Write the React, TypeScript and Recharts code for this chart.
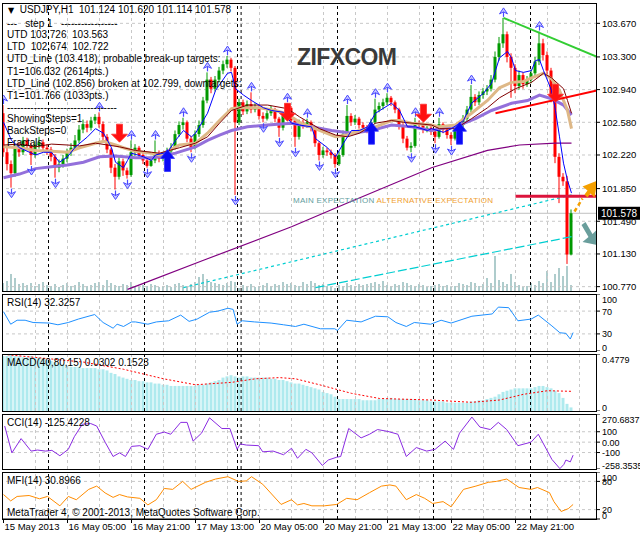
import React from 'react';
import { ComposedChart, Bar, Line, XAxis, YAxis, ReferenceLine } from 'recharts';

const W = 640;
const FONT = '"Liberation Sans", Arial, sans-serif';
const X_DOMAIN = [-0.375, 148.375];
const PRICE_DOMAIN = [100.722, 103.894];
const MAIN_TOP = 3;
const MAIN_H = 288;

// USDJPY H1, 15 May 13:00 .. 23 May 04:00
const firstOpen = 102.68;
const closes = [
  102.25, 102.12, 102.02, 102.30, 102.25, 102.38, 102.32, 102.22, 102.33, 102.36,
  102.30, 102.28, 102.20, 102.08, 102.12, 102.18, 102.25, 102.30, 102.38, 102.50,
  102.56, 102.52, 102.60, 102.64, 102.56, 102.42, 102.28, 102.08, 101.98, 102.15,
  102.05, 102.00, 102.25, 102.30, 102.22, 102.16, 102.10, 102.16, 102.24, 102.18,
  102.20, 102.26, 102.30, 102.45, 102.55, 102.58, 102.40, 102.30, 102.45, 102.55,
  102.82, 103.05, 102.95, 103.05, 103.15, 103.22, 103.27, 103.18, 102.58, 102.80,
  102.70, 102.78, 102.72, 102.75, 102.65, 102.62, 102.68, 102.72, 102.62, 102.52,
  102.65, 102.74, 102.60, 102.42, 102.58, 102.55, 102.58, 102.52, 102.35, 102.22,
  102.27, 102.25, 102.22, 102.12, 102.22, 102.45, 102.65, 102.58, 102.62, 102.55,
  102.52, 102.50, 102.58, 102.72, 102.76, 102.80, 102.85, 102.80, 102.72, 102.55,
  102.40, 102.30, 102.32, 102.56, 102.55, 102.50, 102.52, 102.48, 102.42, 102.56,
  102.50, 102.44, 102.40, 102.50, 102.55, 102.62, 102.72, 102.86, 102.80, 102.88,
  102.92, 102.95, 103.05, 103.30, 103.45, 103.55, 103.30, 103.18, 102.98, 103.10,
  103.00, 103.05, 103.12, 103.25, 103.45, 103.32, 103.15, 102.85, 102.20, 101.98,
  101.93, 101.124, 101.578,
];
const highs = [
  102.77, 102.30, 102.16, 102.34, 102.36, 102.42, 102.41, 102.35, 102.37, 102.42,
  102.39, 102.34, 102.31, 102.23, 102.17, 102.22, 102.29, 102.35, 102.44, 102.55,
  102.61, 102.60, 102.64, 102.67, 102.69, 102.59, 102.45, 102.30, 102.12, 102.20,
  102.18, 102.08, 102.38, 102.34, 102.32, 102.25, 102.19, 102.20, 102.38, 102.27,
  102.24, 102.30, 102.35, 102.49, 102.59, 102.63, 102.60, 102.43, 102.49, 102.60,
  102.86, 103.13, 103.08, 103.09, 103.19, 103.26, 103.31, 103.29, 103.20, 102.84,
  102.83, 102.82, 102.91, 102.79, 102.77, 102.69, 102.72, 102.76, 102.74, 102.64,
  102.69, 102.79, 102.76, 102.62, 102.61, 102.61, 102.62, 102.60, 102.54, 102.37,
  102.31, 102.30, 102.28, 102.24, 102.26, 102.49, 102.77, 102.68, 102.66, 102.64,
  102.58, 102.55, 102.62, 102.84, 102.80, 102.84, 102.90, 102.87, 102.82, 102.74,
  102.57, 102.43, 102.36, 102.63, 102.60, 102.58, 102.56, 102.55, 102.50, 102.63,
  102.58, 102.52, 102.47, 102.54, 102.59, 102.66, 102.76, 102.99, 102.89, 102.92,
  102.96, 102.99, 103.10, 103.36, 103.52, 103.73, 103.58, 103.34, 103.22, 103.15,
  103.13, 103.09, 103.16, 103.30, 103.58, 103.50, 103.36, 103.18, 102.90, 102.24,
  102.02, 101.99, 101.620,
];
const lows = [
  102.20, 102.05, 101.86, 101.98, 102.20, 102.22, 102.28, 102.11, 102.19, 102.29,
  102.26, 102.22, 102.15, 101.97, 102.03, 102.08, 102.14, 102.21, 102.27, 102.35,
  102.46, 102.47, 102.49, 102.56, 102.52, 102.38, 102.24, 102.02, 101.84, 101.95,
  101.99, 101.96, 101.98, 102.21, 102.18, 102.12, 102.08, 102.09, 102.13, 102.14,
  102.15, 102.17, 102.23, 102.28, 102.42, 102.50, 102.36, 102.25, 102.28, 102.42,
  102.52, 102.79, 102.90, 102.92, 103.02, 103.11, 103.18, 103.14, 101.78, 102.55,
  102.66, 102.67, 102.68, 102.69, 102.61, 102.58, 102.60, 102.65, 102.58, 102.42,
  102.49, 102.62, 102.56, 102.31, 102.39, 102.51, 102.52, 102.48, 102.31, 102.16,
  102.19, 102.21, 102.18, 102.08, 102.10, 102.20, 102.42, 102.54, 102.55, 102.51,
  102.48, 102.46, 102.47, 102.56, 102.69, 102.72, 102.77, 102.76, 102.68, 102.50,
  102.35, 102.27, 102.25, 102.30, 102.51, 102.46, 102.47, 102.44, 102.35, 102.40,
  102.46, 102.40, 102.33, 102.38, 102.47, 102.52, 102.59, 102.69, 102.76, 102.77,
  102.84, 102.88, 102.92, 103.02, 103.26, 103.40, 103.24, 102.85, 102.90, 102.94,
  102.95, 102.97, 103.01, 103.08, 103.21, 103.26, 103.10, 102.80, 102.13, 101.69,
  101.88, 101.02, 101.114,
];
const volumes = [
  2000, 2500, 4250, 3250, 1750, 2000, 1500, 2000, 1250, 1750,
  2250, 1500, 1250, 1750, 1000, 1500, 2000, 1250, 1500, 2250,
  1750, 1250, 1500, 2000, 2250, 1500, 2750, 2000, 1500, 1250,
  1750, 1500, 2250, 1250, 1000, 1500, 1250, 1750, 1500, 1000,
  1250, 1500, 1000, 1750, 2000, 1500, 1250, 1750, 2250, 3500,
  4250, 3000, 2250, 2000, 1750, 1500, 2000, 2500, 2250, 750,
  1500, 1250, 1750, 1000, 1250, 1500, 2000, 1250, 1750, 1500,
  2250, 1750, 2000, 1500, 1250, 2250, 1750, 2500, 2000, 1500,
  1750, 1250, 1000, 750, 1500, 1250, 2000, 1500, 1250, 1750,
  1500, 1750, 2000, 2250, 1750, 2500, 1500, 1250, 1750, 1500,
  2250, 2000, 1500, 1250, 1750, 1500, 1000, 1250, 1500, 1750,
  1250, 1500, 1000, 1250, 2000, 1750, 1500, 2250, 2000, 1250,
  1750, 3250, 2000, 8750, 2750, 2250, 1750, 4250, 2250, 1500,
  1000, 1250, 2000, 1500, 2500, 2000, 5000, 2250, 4250, 5750,
  3750, 6250, 1500,
];

// moving averages, read as [bar, price]
const blueMA = [
  [0, 102.58], [2, 102.38], [4, 102.30], [7, 102.24], [8, 102.22], [10, 102.25], [12, 102.25], [14, 102.14],
  [16, 102.20], [18, 102.31], [21, 102.42], [23, 102.51], [25, 102.46], [27, 102.30], [28, 102.14], [30, 102.08],
  [31, 102.16], [32, 102.24], [35, 102.20], [37, 102.16], [38, 102.22], [41, 102.25], [43, 102.38], [45, 102.49],
  [47, 102.42], [48, 102.46], [51, 102.68], [53, 102.93], [56, 103.12], [57, 103.13], [58, 102.95], [60, 102.88],
  [62, 102.82], [65, 102.74], [67, 102.71], [70, 102.69], [72, 102.57], [74, 102.55], [77, 102.53], [78, 102.40],
  [81, 102.30], [83, 102.20], [85, 102.35], [87, 102.49], [89, 102.49], [91, 102.53], [93, 102.68], [97, 102.79],
  [99, 102.71], [101, 102.53], [103, 102.53], [106, 102.49], [107, 102.51], [110, 102.47], [112, 102.51], [115, 102.60],
  [117, 102.79], [120, 102.90], [122, 103.01], [124, 103.29], [126, 103.36], [127, 103.29], [128, 103.15], [130, 103.13],
  [132, 103.15], [133, 103.26], [134, 103.27], [135, 103.15], [137, 102.93], [138, 102.71], [139, 102.42], [140, 102.13],
  [141, 101.94], [142, 101.80],
];
const tanMA = [
  [0, 102.31], [4, 102.30], [8, 102.27], [12, 102.26], [16, 102.25], [19, 102.30], [23, 102.35], [25, 102.37],
  [28, 102.33], [30, 102.30], [33, 102.26], [37, 102.24], [39, 102.22], [44, 102.33], [48, 102.35], [51, 102.46],
  [54, 102.60], [57, 102.73], [59, 102.74], [64, 102.74], [68, 102.71], [71, 102.67], [74, 102.58], [79, 102.49],
  [83, 102.42], [86, 102.44], [89, 102.49], [93, 102.53], [97, 102.60], [99, 102.60], [102, 102.57], [107, 102.55],
  [109, 102.53], [113, 102.55], [117, 102.68], [121, 102.82], [124, 102.96], [127, 103.02], [130, 103.03], [132, 103.07],
  [135, 103.12], [137, 103.06], [139, 102.93], [141, 102.71], [142, 102.51],
];
const maroonMA = [
  [0, 102.33], [4, 102.34], [8, 102.31], [12, 102.34], [16, 102.33], [19, 102.32], [23, 102.35], [26, 102.33],
  [29, 102.31], [33, 102.27], [37, 102.25], [39, 102.24], [44, 102.30], [48, 102.35], [51, 102.42], [54, 102.57],
  [57, 102.71], [61, 102.77], [66, 102.77], [71, 102.73], [74, 102.64], [79, 102.51], [83, 102.44], [86, 102.42],
  [89, 102.46], [93, 102.57], [97, 102.60], [100, 102.58], [107, 102.55], [109, 102.51], [113, 102.51], [117, 102.62],
  [121, 102.74], [124, 102.85], [128, 102.95], [132, 103.02], [135, 103.12], [137, 103.07], [140, 102.95], [141, 102.82],
  [142, 102.68],
];
const lavenderMA = [
  [0, 101.97], [4, 102.01], [8, 102.07], [12, 102.09], [16, 102.11], [20, 102.14], [24, 102.20], [28, 102.21],
  [33, 102.19], [37, 102.19], [39, 102.20], [43, 102.24], [48, 102.31], [51, 102.38], [54, 102.44], [57, 102.49],
  [61, 102.53], [66, 102.55], [72, 102.57], [77, 102.53], [82, 102.49], [87, 102.46], [92, 102.49], [97, 102.55],
  [102, 102.53], [107, 102.49], [114, 102.55], [118, 102.62], [122, 102.71], [127, 102.79], [131, 102.82], [134, 102.88],
  [137, 102.84], [140, 102.77], [142, 102.66],
];
const purpleMA = [
  [31, 100.74], [34, 100.79], [50, 101.06], [72, 101.43], [87, 101.71], [107, 102.08], [121, 102.27], [129, 102.33],
  [138, 102.35], [142, 102.35],
];
const cyanDotted = [[45, 100.76], [142, 101.78]];
const cyanDashed = [[78, 100.76], [142, 101.32]];
const greenTrend = [[125, 103.73], [148.375, 103.30]];
const redTrend = [[123, 102.68], [148.375, 102.93]];
const targetLine = [[128, 101.766], [148.375, 101.766]];

const fractalUpBars = [0, 24, 32, 38, 45, 51, 56, 62, 71, 76, 86, 93, 96, 103, 109, 117, 125, 134];
const fractalDownBars = [2, 7, 13, 28, 31, 36, 47, 58, 65, 69, 73, 79, 83, 102, 108, 112];
const buyArrows = [[41, 102.16], [92, 102.46], [114, 102.46]];
const sellArrows = [[29, 102.46], [71, 102.69], [105, 102.68], [138, 102.90]];
const altExpect = [[146.5, 101.84]];
const mainExpect = [[146.5, 101.36]];

const priceTicks = [100.77, 101.13, 101.49, 101.85, 102.22, 102.58, 102.94, 103.30, 103.67];
const dateTicks = [0, 16, 32, 48, 64, 80, 96, 112, 128];
const dateLabels = ['15 May 2013', '16 May 05:00', '16 May 21:00', '17 May 13:00', '20 May 05:00',
  '20 May 21:00', '21 May 13:00', '22 May 05:00', '22 May 21:00'];
const gridBars = [8, 16, 24, 32, 40, 48, 56, 64, 72, 80, 88, 96, 104, 112, 120, 128, 136, 144];
const daySeparators = [11.25, 35.25, 58.5, 59.4, 83.5, 107.5, 131.75];

// indicators
const rsi = [
  [0, 69], [1.8, 47], [3.4, 54], [5.4, 54], [7.4, 50], [11.5, 49], [13.6, 46], [16.2, 50], [18.7, 56], [22.8, 64],
  [24.9, 50], [27.4, 40], [28.4, 47], [30, 43], [32, 51], [33, 51], [36.1, 47], [38.2, 51], [41.3, 53], [44.3, 63],
  [46.4, 52], [48.4, 56], [51.5, 68], [53.6, 70], [56.1, 75], [57.4, 73], [58.4, 47], [59.7, 53], [62.8, 51], [66.9, 49],
  [70, 46], [73, 43], [75.1, 47], [79.2, 39], [82.8, 39], [83.5, 36], [85.8, 54], [89.4, 51], [93, 61], [96.1, 60],
  [98.1, 50], [100.7, 43], [102.7, 50], [106.8, 47], [109.4, 54], [111.9, 49], [117.1, 61], [122.2, 65], [123.7, 77],
  [126.3, 76], [128.6, 53], [131.9, 56], [133.7, 63], [137.1, 44], [139.1, 32], [140.6, 31], [141.7, 21], [142.4, 32.3],
];
const macdHist = [
  0.46, 0.46, 0.47, 0.46, 0.46, 0.45, 0.45, 0.46, 0.45, 0.45,
  0.44, 0.43, 0.42, 0.41, 0.40, 0.39, 0.38, 0.37, 0.37, 0.37,
  0.36, 0.36, 0.36, 0.36, 0.35, 0.35, 0.34, 0.32, 0.31, 0.29,
  0.28, 0.27, 0.26, 0.26, 0.25, 0.25, 0.24, 0.24, 0.23, 0.23,
  0.22, 0.22, 0.21, 0.21, 0.21, 0.21, 0.21, 0.21, 0.21, 0.22,
  0.22, 0.23, 0.24, 0.25, 0.26, 0.28, 0.29, 0.30, 0.29, 0.28,
  0.29, 0.29, 0.28, 0.28, 0.28, 0.28, 0.28, 0.27, 0.27, 0.26,
  0.26, 0.25, 0.24, 0.23, 0.23, 0.22, 0.21, 0.20, 0.19, 0.18,
  0.16, 0.15, 0.14, 0.12, 0.10, 0.10, 0.10, 0.10, 0.10, 0.10,
  0.09, 0.09, 0.09, 0.09, 0.10, 0.10, 0.10, 0.11, 0.10, 0.10,
  0.10, 0.10, 0.10, 0.10, 0.09, 0.09, 0.09, 0.08, 0.08, 0.08,
  0.08, 0.07, 0.07, 0.07, 0.07, 0.07, 0.07, 0.08, 0.08, 0.09,
  0.09, 0.10, 0.11, 0.12, 0.14, 0.16, 0.17, 0.18, 0.19, 0.19,
  0.19, 0.19, 0.19, 0.20, 0.21, 0.21, 0.20, 0.19, 0.17, 0.15,
  0.11, 0.06, 0.03,
];
const macdSignal = [
  [0, 0.475], [20, 0.41], [30, 0.35], [40, 0.27], [48, 0.22], [57, 0.24], [63, 0.27], [69, 0.28],
  [73, 0.27], [79, 0.22], [87, 0.148], [94, 0.105], [107, 0.092], [117, 0.073], [124, 0.092],
  [130, 0.14], [136, 0.17], [142, 0.165],
];
const cci = [
  [0.3, 155], [2.1, -103], [4.4, 34], [6.9, -86], [8.5, -76], [10.5, -86], [12.1, -79], [14.1, -131], [16.2, -69],
  [17.7, 52], [19.7, 172], [21.8, 179], [23.3, 155], [25.4, 0], [27.4, -138], [29, -103], [30.5, -138], [32, -41],
  [34.1, -34], [36.1, -69], [38.2, 76], [40.2, 97], [41.8, 76], [44.3, 190], [45.9, 190], [47.4, 10], [49.5, 86],
  [51.5, 234], [54.6, 131], [56.6, 131], [58.4, -69], [59.2, -17], [60.7, -28], [63.8, -34], [64.8, -93], [67.4, -86],
  [70, -121], [72, -59], [73.5, -155], [75.6, -69], [77.1, -103], [79.7, -224], [81.2, -172], [83.3, -145], [84.3, -138],
  [86.3, 131], [89.4, 41], [91.5, 76], [93.5, 121], [96.1, 103], [98.6, 76], [100.7, -138], [103.2, -52], [105.8, -86],
  [107.9, -69], [110.4, 10], [112.5, -69], [114, 86], [117.1, 241], [119.1, 145], [121.7, 121], [123.7, 190],
  [125.8, 121], [128.6, -34], [131.9, 0], [133.7, 76], [137.1, -166], [139.1, -255], [140.1, -214], [140.6, -172],
  [141.7, -190], [142.4, -125.4],
];
const mfi = [
  [0, 52], [1.8, 38.5], [3.4, 48], [6.4, 50], [9, 43], [11, 48], [14.1, 28], [16.2, 48], [18.2, 41], [21.3, 63],
  [23.3, 70], [25.4, 55.5], [27.4, 46], [29, 52], [31, 47], [34.1, 44], [36.1, 30], [38.2, 41], [40.2, 65], [42.3, 63],
  [44.8, 80], [46.9, 63], [50.5, 78], [53, 85], [56.1, 90], [58.7, 80], [60.7, 81], [62, 90], [64.8, 74], [69.4, 31],
  [72, 41], [73.5, 30], [75.1, 33], [77.1, 28], [80.2, 28], [83.3, 31], [85.8, 44], [88.4, 41], [91.5, 56], [94.5, 70],
  [96.6, 72.5], [98.1, 70], [100.7, 41], [103.2, 52], [105.3, 44], [107.3, 33], [109.9, 37], [111.9, 26], [115, 63],
  [118.1, 70], [121.2, 78], [123.2, 80], [125.8, 85], [128.9, 67], [131.9, 63], [133.5, 67], [136.5, 56], [137.6, 37],
  [139.4, 16], [141.2, 22], [142.4, 30.9],
];

const infoLines = [
  '---   step 1   -----------------',
  'UTD 103.726  103.563',
  'LTD  102.674  102.722',
  'UTD_Line (103.418), probable break-up targets:',
  'T1=106.032 (2614pts.)',
  'LTD_Line (102.856) broken at 102.799, downtargets:',
  'T1=101.766 (1033pts.)',
  '---------------------------------',
  'ShowingSteps=1',
  'BackSteps=0',
  'Fractals',
];
const infoTops = [18, 29, 41, 53, 66, 78, 90, 102, 113, 125, 137];

const rows = closes.map((c, i) => ({
  i,
  o: i === 0 ? firstOpen : closes[i - 1],
  c,
  h: highs[i],
  l: lows[i],
  range: [lows[i], highs[i]],
  vol: volumes[i],
  macd: macdHist[i],
}));
const pts = (a: number[][]) => a.map(([i, p]) => ({ i, p }));
const upPts = fractalUpBars.map(i => ({ i, p: highs[i] }));
const downPts = fractalDownBars.map(i => ({ i, p: lows[i] }));

const Candle = (props: any) => {
  const { x, y, width, height, payload } = props;
  const { o, c, h, l } = payload;
  const k = h > l ? height / (h - l) : 0;
  const top = y + (h - Math.max(o, c)) * k;
  const bot = y + (h - Math.min(o, c)) * k;
  const mid = x + width / 2;
  const col = c >= o ? '#009900' : '#FF0000';
  return (
    <g>
      <line x1={mid} x2={mid} y1={y} y2={y + height} stroke={col} />
      <rect x={x} y={top} width={width} height={Math.max(1, bot - top)} fill={col} />
    </g>
  );
};

const FracUp = (p: any) => {
  const { cx, cy, index } = p;
  return (
    <g key={'fu' + index}>
      <line x1={cx} x2={cx} y1={cy - 8} y2={cy - 1} stroke="#4848FF" strokeWidth={1.2} />
      <path d={`M${cx},${cy - 10} L${cx + 4},${cy - 4} L${cx},${cy - 6} L${cx - 4},${cy - 4} Z`} fill="#C8C8FF" stroke="#4848FF" strokeWidth={1} />
    </g>
  );
};
const FracDown = (p: any) => {
  const { cx, cy, index } = p;
  return (
    <g key={'fd' + index}>
      <line x1={cx} x2={cx} y1={cy + 1} y2={cy + 8} stroke="#4848FF" strokeWidth={1.2} />
      <path d={`M${cx},${cy + 10} L${cx + 4},${cy + 4} L${cx},${cy + 6} L${cx - 4},${cy + 4} Z`} fill="#C8C8FF" stroke="#4848FF" strokeWidth={1} />
    </g>
  );
};
const BuyArrow = (p: any) => {
  const { cx, cy, index } = p;
  return (
    <path key={'ba' + index} fill="#0A0AF5" stroke="#3030FF" strokeWidth={0.8}
      d={`M${cx},${cy - 11} L${cx + 7},${cy - 2} L${cx + 3},${cy - 2} L${cx + 3},${cy + 11} L${cx - 3},${cy + 11} L${cx - 3},${cy - 2} L${cx - 7},${cy - 2} Z`} />
  );
};
const SellArrow = (p: any) => {
  const { cx, cy, index } = p;
  return (
    <path key={'sa' + index} fill="#FF1010" stroke="#FF3030" strokeWidth={0.8}
      d={`M${cx},${cy + 9} L${cx + 8},${cy + 1} L${cx + 3},${cy + 1} L${cx + 3},${cy - 9} L${cx - 3},${cy - 9} L${cx - 3},${cy + 1} L${cx - 8},${cy + 1} Z`} />
  );
};
const AltArrow = (p: any) => {
  const { cx, cy, index } = p;
  return (
    <g key={'alt' + index}>
      <line x1={cx - 15} y1={cy + 22} x2={cx - 7} y2={cy + 9} stroke="#F5A000" strokeWidth={2.5} strokeDasharray="4 3" />
      <path d={`M${cx + 8},${cy - 9} L${cx - 7},${cy - 3} L${cx - 2},${cy + 1} L${cx - 5},${cy + 5} L${cx - 2},${cy + 8} L${cx + 1},${cy + 4} L${cx + 5},${cy + 8} Z`} fill="#F5A000" />
    </g>
  );
};
const MainArrow = (p: any) => {
  const { cx, cy, index } = p;
  return (
    <path key={'main' + index} fill="#6A9E9C"
      d={`M${cx + 8},${cy + 12} L${cx + 8},${cy - 4} L${cx + 3},${cy + 1} L${cx - 4},${cy - 11} L${cx - 8},${cy - 8} L${cx - 1},${cy + 4} L${cx - 7},${cy + 9} Z`} />
  );
};

const PriceTick = (p: any) => (
  <text x={p.x} y={p.y} dy={3.5} fontSize={9.5} fontFamily={FONT} fill="#000">
    {Number(p.payload.value).toFixed(3)}
  </text>
);
const makeTick = (h: number, labels: Record<string, string>) => (p: any) => {
  const yy = Math.min(Math.max(p.y, 5), h - 4);
  return (
    <text x={p.x} y={yy} dy={3.5} fontSize={9} fontFamily={FONT} fill="#000">
      {labels[String(p.payload.value)]}
    </text>
  );
};
const DateTick = (p: any) => (
  <text x={p.x + 1} y={p.y} dy={5} fontSize={9.5} fontFamily={FONT} fill="#000" textAnchor="start">
    {dateLabels[dateTicks.indexOf(p.payload.value)]}
  </text>
);

const frame = (top: number, h: number): React.CSSProperties => ({
  position: 'absolute', left: 2, top, width: 595, height: h, border: '1px solid #000',
  boxSizing: 'border-box', pointerEvents: 'none',
});

const gridLines = (yAxisId?: any) => [
  ...gridBars.map(b => <ReferenceLine key={'g' + b} yAxisId={yAxisId} x={b} stroke="#C8C8C8" strokeDasharray="3 3" />),
  ...daySeparators.map(b => <ReferenceLine key={'d' + b} yAxisId={yAxisId} x={b} stroke="#000" strokeDasharray="3 3" />),
];

function Panel({ top, h, domain, ticks, labels, levels, title, withDates, children }: any) {
  const chartH = withDates ? h + 24 : h;
  return (
    <div style={{ position: 'absolute', left: 0, top, width: W, height: chartH }}>
      <ComposedChart width={W} height={chartH} data={rows} margin={{ top: 0, right: 0, bottom: 0, left: 2 }}>
        <XAxis type="number" dataKey="i" domain={X_DOMAIN} allowDataOverflow hide={!withDates} height={24}
          ticks={dateTicks} interval={0} tick={<DateTick />} tickSize={4} tickLine={{ stroke: '#000' }}
          axisLine={{ stroke: '#000' }} />
        <YAxis orientation="right" width={43} domain={domain} allowDataOverflow ticks={ticks} interval={0}
          tick={makeTick(h, labels)} tickSize={3} tickLine={{ stroke: '#000' }} axisLine={false} />
        {levels.map((v: number) => <ReferenceLine key={'l' + v} y={v} stroke="#C8C8C8" strokeDasharray="3 3" />)}
        {gridLines()}
        {children}
      </ComposedChart>
      <div style={frame(0, h + 1)} />
      <div style={{ position: 'absolute', left: 7, top: 3, fontSize: 10, fontFamily: FONT, color: '#000', whiteSpace: 'pre' }}>{title}</div>
    </div>
  );
}

export default function App() {
  const lastClose = closes[closes.length - 1];
  return (
    <div style={{ position: 'absolute', left: 0, top: 0, width: W, height: 540, background: '#fff', overflow: 'hidden', fontFamily: FONT }}>
      {/* main window background: grid, separators, volumes, price scale */}
      <div style={{ position: 'absolute', left: 0, top: MAIN_TOP }}>
        <ComposedChart width={W} height={MAIN_H} data={rows} margin={{ top: 0, right: 0, bottom: 0, left: 2 }}>
          <XAxis type="number" dataKey="i" domain={X_DOMAIN} allowDataOverflow hide />
          <YAxis orientation="right" width={43} domain={PRICE_DOMAIN} allowDataOverflow ticks={priceTicks} interval={0}
            tick={<PriceTick />} tickSize={3} tickLine={{ stroke: '#000' }} axisLine={false} />
          <YAxis yAxisId="vol" hide domain={[0, 72000]} />
          {priceTicks.map(v => <ReferenceLine key={'h' + v} y={v} stroke="#C8C8C8" strokeDasharray="3 3" />)}
          {gridLines()}
          <ReferenceLine y={lastClose} stroke="#C0C0C0" />
          <Bar yAxisId="vol" dataKey="vol" barSize={1} fill="#5F9A9A" isAnimationActive={false} />
        </ComposedChart>
      </div>
      {/* main window: MAs, candles, objects */}
      <div style={{ position: 'absolute', left: 0, top: MAIN_TOP }}>
        <ComposedChart width={W} height={MAIN_H} data={rows} margin={{ top: 0, right: 43, bottom: 0, left: 2 }}>
          <XAxis type="number" dataKey="i" domain={X_DOMAIN} allowDataOverflow hide />
          <YAxis hide domain={PRICE_DOMAIN} allowDataOverflow />
          <Line data={pts(cyanDashed)} dataKey="p" stroke="#00CED1" strokeWidth={1.2} strokeDasharray="9 3" dot={false} isAnimationActive={false} />
          <Line data={pts(cyanDotted)} dataKey="p" stroke="#00CED1" strokeWidth={1.2} strokeDasharray="3 3" dot={false} isAnimationActive={false} />
          <Line data={pts(purpleMA)} dataKey="p" stroke="#800080" strokeWidth={1.2} dot={false} isAnimationActive={false} />
          <Line data={pts(lavenderMA)} dataKey="p" stroke="#9370DB" strokeWidth={3} dot={false} isAnimationActive={false} />
          <Line data={pts(tanMA)} dataKey="p" stroke="#DEB887" strokeWidth={3} dot={false} isAnimationActive={false} />
          <Line data={pts(maroonMA)} dataKey="p" stroke="#800000" strokeWidth={1} dot={false} isAnimationActive={false} />
          <Bar dataKey="range" barSize={3} shape={Candle} isAnimationActive={false} />
          <Line data={pts(blueMA)} dataKey="p" stroke="#0000FF" strokeWidth={1} dot={false} isAnimationActive={false} />
          <Line data={pts(greenTrend)} dataKey="p" stroke="#32CD32" strokeWidth={2} dot={false} isAnimationActive={false} />
          <Line data={pts(redTrend)} dataKey="p" stroke="#FF0000" strokeWidth={2} dot={false} isAnimationActive={false} />
          <Line data={pts(targetLine)} dataKey="p" stroke="#DC143C" strokeWidth={3} dot={false} isAnimationActive={false} />
          <Line data={upPts} dataKey="p" stroke="none" dot={FracUp} activeDot={false} isAnimationActive={false} />
          <Line data={downPts} dataKey="p" stroke="none" dot={FracDown} activeDot={false} isAnimationActive={false} />
          <Line data={pts(buyArrows)} dataKey="p" stroke="none" dot={BuyArrow} activeDot={false} isAnimationActive={false} />
          <Line data={pts(sellArrows)} dataKey="p" stroke="none" dot={SellArrow} activeDot={false} isAnimationActive={false} />
          <Line data={pts(altExpect)} dataKey="p" stroke="none" dot={AltArrow} activeDot={false} isAnimationActive={false} />
          <Line data={pts(mainExpect)} dataKey="p" stroke="none" dot={MainArrow} activeDot={false} isAnimationActive={false} />
          <ReferenceLine y={lastClose} stroke="none" label={(p: any) => {
            const vb = p.viewBox || {};
            const x = (vb.x || 0) + (vb.width || 0);
            const y = vb.y || 0;
            return (
              <g>
                <rect x={x + 1} y={y - 6.5} width={43} height={13} fill="#000" />
                <text x={x + 4} y={y + 3.5} fill="#fff" fontSize={10} fontFamily={FONT}>{lastClose.toFixed(3)}</text>
              </g>
            );
          }} />
        </ComposedChart>
      </div>
      <div style={frame(MAIN_TOP, MAIN_H + 1)} />

      {/* chart texts */}
      <div style={{ position: 'absolute', left: 8, top: 4, fontSize: 10, color: '#000', whiteSpace: 'pre' }}>
        <span style={{ fontSize: 8, fontFamily: '"DejaVu Sans"' }}>▼</span>{'  USDJPY,H1  101.124 101.620 101.114 101.578'}
      </div>
      {infoLines.map((t, k) => (
        <div key={k} style={{ position: 'absolute', left: 7, top: infoTops[k], fontSize: 10, lineHeight: '12px', color: '#000', whiteSpace: 'pre' }}>{t}</div>
      ))}
      <div style={{ position: 'absolute', left: 297, top: 44, fontSize: 23, fontWeight: 'bold', color: '#3A3A3A', letterSpacing: -0.6 }}>ZIFXCOM</div>
      <div style={{ position: 'absolute', left: 293, top: 196, fontSize: 8, letterSpacing: 0.25, whiteSpace: 'pre' }}>
        <span style={{ color: '#5F9EA0' }}>MAIN EXPECTATION</span>
        <span style={{ color: '#F0A030' }}> ALTERNATIVE EXPECTATION</span>
      </div>

      <Panel top={294} h={57} domain={[0, 100]} ticks={[0, 30, 70, 100]} levels={[30, 70]}
        labels={{ '0': '0', '30': '30', '70': '70', '100': '100' }} title="RSI(14) 32.3257">
        <Line data={pts(rsi)} dataKey="p" stroke="#1E90FF" strokeWidth={1} dot={false} isAnimationActive={false} />
      </Panel>
      <Panel top={354} h={57} domain={[0, 0.4779]} ticks={[0, 0.4779]} levels={[]}
        labels={{ '0': '0', '0.4779': '0.4779' }} title="MACD(40,80,15) 0.0302 0.1523">
        <Bar dataKey="macd" barSize={3} fill="#AEEAEE" isAnimationActive={false} />
        <Line data={pts(macdSignal)} dataKey="p" stroke="#FF0000" strokeWidth={1} strokeDasharray="2 2" dot={false} isAnimationActive={false} />
      </Panel>
      <Panel top={414} h={55} domain={[-258.3535, 270.6837]} ticks={[-258.3535, -100, 0, 100, 270.6837]} levels={[-100, 0, 100]}
        labels={{ '-258.3535': '-258.3535', '-100': '-100', '0': '0.00', '100': '100', '270.6837': '270.6837' }} title="CCI(14) -125.4228">
        <Line data={pts(cci)} dataKey="p" stroke="#8A2BE2" strokeWidth={1} dot={false} isAnimationActive={false} />
      </Panel>
      <Panel top={472} h={47} domain={[0, 100]} ticks={[0, 20, 80, 100]} levels={[20, 80]} withDates
        labels={{ '0': '0', '20': '20', '80': '80', '100': '100' }} title="MFI(14) 30.8966">
        <Line data={pts(mfi)} dataKey="p" stroke="#FF8C00" strokeWidth={1} dot={false} isAnimationActive={false} />
      </Panel>
      <div style={{ position: 'absolute', left: 7, top: 507, fontSize: 10, color: '#000', whiteSpace: 'pre' }}>
        MetaTrader 4, © 2001-2013, MetaQuotes Software Corp.
      </div>
    </div>
  );
}
